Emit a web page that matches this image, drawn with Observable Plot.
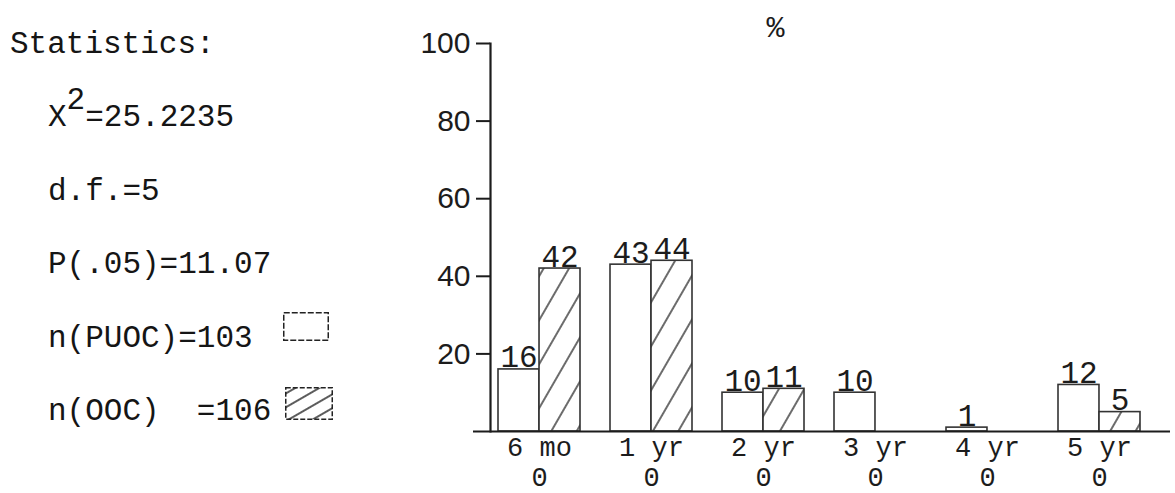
<!DOCTYPE html>
<html>
<head>
<meta charset="utf-8">
<script src="https://cdn.jsdelivr.net/npm/d3@7"></script>
<script src="https://cdn.jsdelivr.net/npm/@observablehq/plot@0.6"></script>
<style>
  body { margin: 0; background: #fff; }
  #wrap { position: relative; width: 1175px; height: 493px; overflow: hidden; }
  #wrap > svg { position: absolute; left: 0; top: 0; }
  #stats {
    position: absolute; left: 0; top: 29px; z-index: 2;
    font-family: "Liberation Mono", monospace; font-size: 31px; color: #151515;
  }
  .row { position: relative; height: 73.4px; line-height: 31px; white-space: pre; }
  .sup { position: relative; top: -17px; }
  .swatch { position: absolute; left: 283px; }
</style>
</head>
<body>
<div id="wrap"><div id="stats"></div></div>
<script>
// Duration categories and the two groups' percentages
const categories = ["6 mo", "1 yr", "2 yr", "3 yr", "4 yr", "5 yr"];
const subLabels = ["0", "0", "0", "0", "0", "0"];
const puoc = [16, 43, 10, 10, 1, 12];
const ooc = [42, 44, 11, 0, 0, 5];
const yTicks = [20, 40, 60, 80, 100];

// Statistics block text
const statsTitle = "Statistics:";
const chiSquare = "25.2235";
const degreesFreedom = "d.f.=5";
const critical = "P(.05)=11.07";
const legendLabels = ["n(PUOC)=103", "n(OOC)  =106"];

// ---- statistics and legend (HTML) ----
const stats = document.getElementById("stats");
function row(html, left) {
  const d = document.createElement("div");
  d.className = "row";
  d.style.paddingLeft = left + "px";
  d.innerHTML = html;
  stats.appendChild(d);
  return d;
}
function hatchSvg(id, w, h, spacing, angle) {
  return `<svg width="${w}" height="${h}" style="overflow:visible">
    <defs><pattern id="${id}" patternUnits="userSpaceOnUse" width="${spacing}" height="${spacing}" patternTransform="rotate(${angle})">
      <rect width="${spacing}" height="${spacing}" fill="white"/>
      <line x1="${spacing/2}" x2="${spacing/2}" y1="0" y2="${spacing}" stroke="#333" stroke-width="1.6"/>
    </pattern></defs>
    <rect x="0.75" y="0.75" width="${w-1.5}" height="${h-1.5}" fill="url(#${id})" stroke="#222" stroke-width="1.5" stroke-dasharray="5 2"/>
  </svg>`;
}
row(statsTitle, 10);
row(`X<span class="sup">2</span>=${chiSquare}`, 48);
row(degreesFreedom, 48);
row(critical, 48);
const r1 = row(legendLabels[0], 48);
r1.insertAdjacentHTML("beforeend",
  `<span class="swatch" style="top:-11px"><svg width="46" height="29"><rect x="0.75" y="0.75" width="44.5" height="27.5" fill="white" stroke="#222" stroke-width="1.5" stroke-dasharray="6 2"/></svg></span>`);
const r2 = row(legendLabels[1], 48);
r2.insertAdjacentHTML("beforeend",
  `<span class="swatch" style="top:-9px;left:285px">${hatchSvg("hatchLegend", 48, 33, 12, 60)}</span>`);

// ---- chart ----
const rows = categories.flatMap((c, i) => [
  {cat: c, series: "PUOC", value: puoc[i]},
  {cat: c, series: "OOC", value: ooc[i]}
]);
const puocRows = rows.filter(d => d.series === "PUOC");
const oocRows = rows.filter(d => d.series === "OOC" && d.value > 0);

const xRange = [481.8, 1156.2];
const padInner = 0.27;
const step = (xRange[1] - xRange[0]) / categories.length;
const bandwidth = step * (1 - padInner);
const half = bandwidth / 2;

const tickText = new Map(categories.map((c, i) => [c, c + "\n" + subLabels[i]]));
const ink = "#1c1c1c";

const chart = Plot.plot({
  width: 1175,
  height: 493,
  marginLeft: 490,
  marginRight: 19,
  marginTop: 43,
  marginBottom: 62,
  style: {fontFamily: "Liberation Mono", fontSize: "30px", background: "transparent", color: ink},
  x: {domain: categories, range: xRange, paddingInner: padInner, paddingOuter: padInner / 2, label: null},
  y: {domain: [0, 100], label: null},
  marks: [
    Plot.barY(puocRows, {x: "cat", y: "value", insetRight: half, fill: "white", stroke: "#333", strokeWidth: 1.6}),
    Plot.barY(oocRows, {x: "cat", y: "value", insetLeft: half, fill: "url(#hatch)", stroke: "#333", strokeWidth: 1.6}),
    Plot.text(puocRows, {x: "cat", y: "value", text: d => String(d.value), dx: -half / 2, dy: -2,
      lineAnchor: "bottom", fontSize: 31, fontFamily: "Liberation Mono", fill: ink}),
    Plot.text(oocRows, {x: "cat", y: "value", text: d => String(d.value), dx: half / 2, dy: -2,
      lineAnchor: "bottom", fontSize: 31, fontFamily: "Liberation Mono", fill: ink}),
    Plot.frame({anchor: "left", stroke: ink, strokeWidth: 2.2}),
    Plot.ruleY([0], {insetLeft: -17, insetRight: -14, stroke: ink, strokeWidth: 2.2}),
    Plot.axisY({ticks: yTicks, tickSize: 14, tickPadding: 6, strokeWidth: 2, fontSize: 30,
      fontFamily: "Liberation Sans", label: null}),
    Plot.axisX({tickSize: 0, tickPadding: 3, fontSize: 27, lineHeight: 1.12,
      tickFormat: d => tickText.get(d), label: null}),
    Plot.text(["%"], {frameAnchor: "top", dx: -48, dy: -7, lineAnchor: "bottom", fontSize: 30,
      fontFamily: "Liberation Mono", fill: ink})
  ]
});

// diagonal hatching used by the OOC bars
const defs = d3.select(chart).insert("defs", ":first-child");
const pat = defs.append("pattern").attr("id", "hatch").attr("patternUnits", "userSpaceOnUse")
  .attr("width", 22).attr("height", 22).attr("patternTransform", "rotate(30)");
pat.append("rect").attr("width", 22).attr("height", 22).attr("fill", "white");
pat.append("line").attr("x1", 11).attr("x2", 11).attr("y1", 0).attr("y2", 22)
  .attr("stroke", "#3a3a3a").attr("stroke-width", 1.5);

document.getElementById("wrap").appendChild(chart);
</script>
</body>
</html>
